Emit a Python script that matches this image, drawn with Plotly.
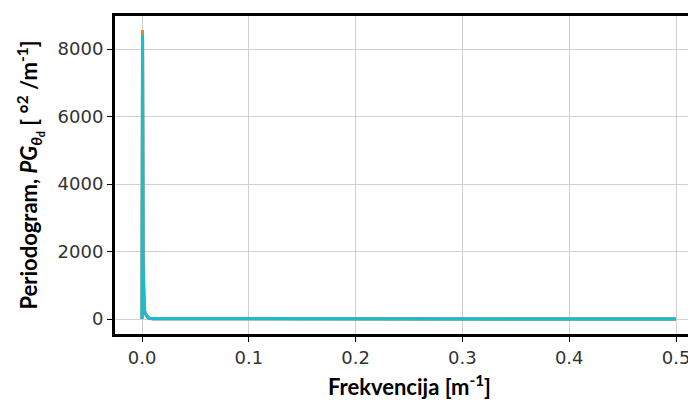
import plotly.graph_objects as go

# Frequencies [1/m] and periodogram values for the plotted series
freq = [0.0, 0.0005, 0.001, 0.0015, 0.002, 0.003, 0.004, 0.005, 0.006, 0.008, 0.01, 0.05, 0.1, 0.2, 0.3, 0.4, 0.5]
series_orange = [0, 8560, 1700, 700, 300, 160, 120, 70, 30, 15, 10, 5, 3, 2, 1, 1, 1]
series_gray = [0, 8300, 1800, 820, 320, 170, 130, 80, 35, 15, 10, 5, 3, 2, 1, 1, 1]
series_cyan = [0, 8430, 1750, 800, 300, 150, 120, 60, 30, 15, 10, 5, 3, 2, 1, 1, 1]

x_ticks = [0.0, 0.1, 0.2, 0.3, 0.4, 0.5]
x_tick_text = ["0.0", "0.1", "0.2", "0.3", "0.4", "0.5"]
y_ticks = [0, 2000, 4000, 6000, 8000]
y_tick_text = ["0", "2000", "4000", "6000", "8000"]

fig = go.Figure()
for vals, col in [(series_orange, "#ff7f0e"), (series_gray, "#7f7f7f"), (series_cyan, "#17becf")]:
    fig.add_trace(go.Scatter(x=freq, y=vals, mode="lines",
                             line=dict(color=col, width=3), showlegend=False))

tick_font = dict(family="DejaVu Sans", size=18, color="#333333")
title_font = dict(family="Lato", size=22, color="#000000")

fig.update_layout(
    width=696, height=403,
    margin=dict(l=107, r=0, t=8, b=77),
    paper_bgcolor="white", plot_bgcolor="white",
    xaxis=dict(
        range=[-0.0253, 0.5262],
        tickvals=x_ticks, ticktext=x_tick_text,
        showgrid=True, gridcolor="#d0d0d0", gridwidth=1,
        zeroline=False,
        showline=True, linecolor="black", linewidth=3, mirror=True,
        ticks="outside", ticklen=5, tickwidth=1, tickcolor="black",
        tickfont=tick_font,
        title=dict(text="<b>Frekvencija [m<sup>-1</sup>]</b>", font=title_font, standoff=14),
    ),
    yaxis=dict(
        range=[-444, 8978],
        tickvals=y_ticks, ticktext=y_tick_text,
        showgrid=True, gridcolor="#d0d0d0", gridwidth=1,
        zeroline=False,
        showline=True, linecolor="black", linewidth=3,
        ticks="outside", ticklen=5, tickwidth=1, tickcolor="black",
        tickfont=tick_font,
        title=dict(text="<b>Periodogram, <i>PG</i><sub><i>θ</i><sub>d</sub></sub> [ °<sup>2</sup> /m<sup>-1</sup>]</b>",
                   font=title_font, standoff=14),
    ),
)

fig.write_html("out.html")
